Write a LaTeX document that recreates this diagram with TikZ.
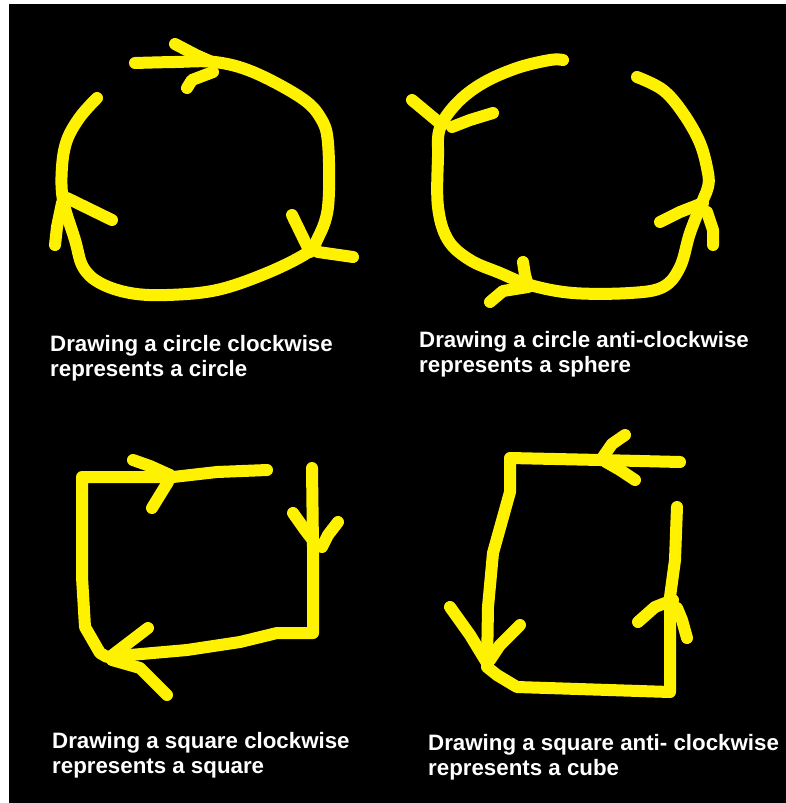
\documentclass[tikz,border=0pt]{standalone}
\usepackage{fontspec}
\setmainfont{Liberation Sans}
\definecolor{pen}{RGB}{255,242,0}
\begin{document}
\begin{tikzpicture}[x=1pt,y=-1pt,
  stroke/.style={draw=pen,line width=12pt,line cap=round,line join=round},
  caption/.style={anchor=base west,inner sep=0pt,text=white,font=\fontsize{22.3}{26}\selectfont\bfseries}]
\fill[white] (0,0) rectangle (786,803);
\fill[black] (9,4) rectangle (786,803);
\useasboundingbox (0,0) rectangle (786,803);

% ---- top left: circle clockwise
\draw[stroke] plot[smooth,tension=0.6] coordinates {(97,98) (80,117) (67,140) (62,167) (63,200) (75,240) (83,267) (100,283) (130,293) (167,295) (217,290) (267,273) (307,253) (317,240) (328,207) (328,143) (320,117) (300,97) (253,72) (215,62) (175,62) (135,63)};
\draw[stroke] (175,44) -- (196,55) -- (214,63);
\draw[stroke] (187,88) -- (192,80) -- (213,72);
\draw[stroke] (292,215) -- (310,252);
\draw[stroke] (353,257) -- (318,252);
\draw[stroke] (112,220) -- (67,198);
\draw[stroke] (55,245) -- (57,227) -- (62,203);

% ---- top right: circle anti-clockwise
\draw[stroke] plot[smooth,tension=0.6] coordinates {(563,60) (550,60) (517,68) (483,83) (457,103) (440,128) (438,157) (438,207) (448,240) (470,260) (500,273) (530,285) (573,293) (630,293) (663,287) (680,267) (690,233) (703,200) (708,187) (708,173) (700,143) (683,113) (663,90) (637,77)};
\draw[stroke] (412,100) -- (442,125);
\draw[stroke] (493,113) -- (470,120) -- (452,127);
\draw[stroke] (523,262) -- (525,275) -- (528,285);
\draw[stroke] (490,302) -- (503,291) -- (528,287);
\draw[stroke] (660,222) -- (680,212) -- (703,203);
\draw[stroke] (713,245) -- (713,230) -- (707,212);

% ---- bottom left: square clockwise
\draw[stroke] (267,470) -- (217,472) -- (173,477) -- (82,477) -- (82,577) -- (85,627) -- (100,653) -- (107,657) -- (187,650) -- (240,642) -- (277,633) -- (313,633) -- (313,547) -- (312,468);
\draw[stroke] (133,460) -- (150,466) -- (170,475);
\draw[stroke] (152,508) -- (160,495) -- (168,482);
\draw[stroke] (293,513) -- (305,530) -- (315,543);
\draw[stroke] (338,522) -- (328,535) -- (322,547);
\draw[stroke] (148,628) -- (110,657);
\draw[stroke] (167,695) -- (140,668) -- (112,660);

% ---- bottom right: square anti-clockwise
\draw[stroke] (680,462) -- (600,460) -- (510,458) -- (510,492) -- (493,553) -- (488,607) -- (487,667) -- (497,675) -- (517,687) -- (670,692) -- (670,597) -- (675,560) -- (677,507);
\draw[stroke] (625,435) -- (612,444) -- (603,457);
\draw[stroke] (635,480) -- (620,470) -- (606,462);
\draw[stroke] (450,607) -- (470,635) -- (487,663);
\draw[stroke] (520,625) -- (500,645) -- (490,660);
\draw[stroke] (638,622) -- (655,607) -- (673,600);
\draw[stroke] (687,638) -- (682,620) -- (677,608);

% ---- captions
\node[caption] (tl1) at (50,351) {Drawing a circle clockwise};
\node[caption] (tl2) at (50,376) {represents a circle};
\node[caption] (tr1) at (419,347) {Drawing a circle anti-clockwise};
\node[caption] (tr2) at (419,372) {represents a sphere};
\node[caption] (bl1) at (52,748) {Drawing a square clockwise};
\node[caption] (bl2) at (52,773) {represents a square};
\node[caption] (br1) at (428,750) {Drawing a square anti- clockwise};
\node[caption] (br2) at (428,775) {represents a cube};
\end{tikzpicture}
\end{document}
